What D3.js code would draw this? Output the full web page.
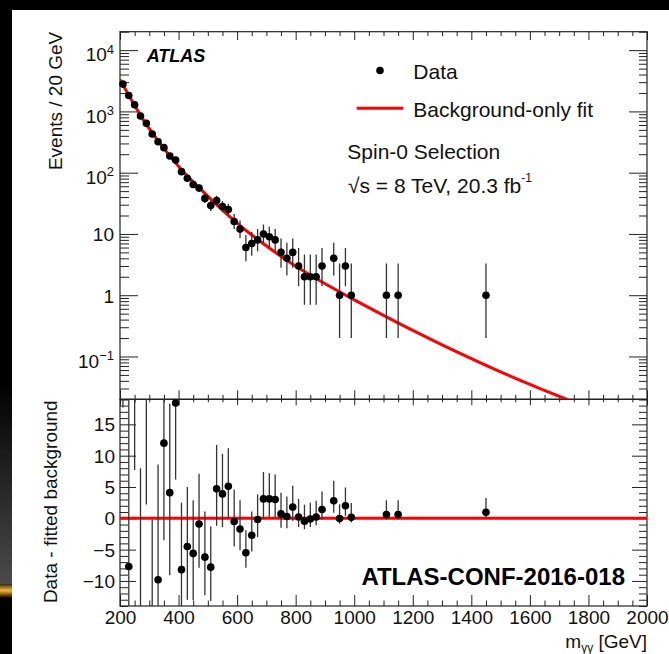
<!DOCTYPE html>
<html lang="en">
<head>
<meta charset="UTF-8">
<title>Diphoton invariant mass</title>
<script src="https://d3js.org/d3.v7.min.js"></script>
<style>
  body { margin: 0; background: #000; }
  svg { display: block; }
</style>
</head>
<body>
<svg id="chart" width="669" height="654"></svg>
<script>
// bin centres (GeV) of the non-empty 20 GeV bins
var mass = [210, 230, 250, 270, 290, 310, 330, 350, 370, 390,
            410, 430, 450, 470, 490, 510, 530, 550, 570, 590,
            610, 630, 650, 670, 690, 710, 730, 750, 770, 790,
            810, 830, 850, 870, 890, 930, 950, 970, 990, 1110,
            1150, 1450];
// events per bin
var counts = [2790, 1820, 1285, 840, 638, 427, 320, 256, 187, 161,
              104, 81, 64, 56, 38, 29, 35, 28, 25, 16,
              12, 6, 7, 8, 10, 9, 8, 5, 4, 5,
              3, 2, 2, 2, 3, 4, 1, 3, 1, 1,
              1, 1];
// error bars (down / up)
var errLow = [52.3, 42.2, 35.3, 28.5, 24.8, 20.2, 17.4, 15.5, 13.2, 12.2,
              9.7, 8.5, 7.5, 7.0, 6.1, 5.4, 5.9, 5.3, 5.0, 4.0,
              3.4, 2.4, 2.6, 2.8, 3.1, 2.9, 2.8, 2.2, 1.9, 2.2,
              1.6, 1.3, 1.3, 1.3, 1.6, 1.9, 0.8, 1.6, 0.8, 0.8,
              0.8, 0.8];
var errHigh = [53.3, 43.2, 36.3, 29.5, 25.8, 21.2, 18.4, 16.5, 14.2, 13.2,
               10.7, 9.5, 8.5, 8.0, 7.3, 6.5, 7.0, 6.4, 6.1, 5.1,
               4.6, 3.6, 3.8, 4.0, 4.3, 4.1, 4.0, 3.4, 3.2, 3.4,
               2.9, 2.6, 2.6, 2.6, 2.9, 3.2, 2.3, 2.9, 2.3, 2.3,
               2.3, 2.3];
// data - fitted background (lower panel)
var residual = [70, -7.7, 43, -21.5, 27, -21.4, -9.8, 12.0, 4.1, 18.4,
                -8.2, -4.5, -5.6, -0.9, -6.2, -7.8, 4.7, 3.9, 5.1, -0.5,
                -1.7, -5.5, -2.7, -0.2, 3.1, 3.1, 3.0, 0.7, 0.3, 1.8,
                0.2, -0.45, -0.1, 0.2, 1.4, 2.8, -0.05, 2.0, 0.15, 0.6,
                0.6, 0.95];
// background-only fit
var fitMass  = [200, 230, 270, 330, 410, 470, 550, 610, 690, 790,
                890, 1000, 1100, 1200, 1300, 1400, 1500, 1600, 1750];
var fitValue = [3325, 1830, 861, 330, 112, 57, 24.5, 13.7, 6.9, 3.2,
                1.64, 0.84, 0.468, 0.266, 0.155, 0.0925, 0.0561, 0.0349, 0.0179];

var xLabels = [200, 400, 600, 800, 1000, 1200, 1400, 1600, 1800, 2000];
var logLabels = [0.1, 1, 10, 100, 1000, 10000];
var residualLabels = [-10, -5, 0, 5, 10, 15];

var font = "'Liberation Sans', Arial, Helvetica, sans-serif";
var svg = d3.select("#chart");
var defs = svg.append("defs");

// slide background: black with a greyish strip and a gold streak on the left
var strip = defs.append("linearGradient").attr("id", "strip")
    .attr("x1", 0).attr("y1", 0).attr("x2", 0).attr("y2", 1);
strip.append("stop").attr("offset", "0%").attr("stop-color", "#000");
strip.append("stop").attr("offset", "100%").attr("stop-color", "#4a4a4a");
var gold = defs.append("linearGradient").attr("id", "gold")
    .attr("x1", 0).attr("y1", 0).attr("x2", 0).attr("y2", 1);
gold.append("stop").attr("offset", "0%").attr("stop-color", "#3a2a08");
gold.append("stop").attr("offset", "45%").attr("stop-color", "#f2b43c");
gold.append("stop").attr("offset", "60%").attr("stop-color", "#c88a20");
gold.append("stop").attr("offset", "100%").attr("stop-color", "#000");

svg.append("rect").attr("width", 669).attr("height", 654).attr("fill", "#000");
svg.append("rect").attr("x", 0).attr("y", 380).attr("width", 12).attr("height", 204).attr("fill", "url(#strip)");
svg.append("rect").attr("x", 0).attr("y", 584).attr("width", 12).attr("height", 14).attr("fill", "url(#gold)");
svg.append("rect").attr("x", 12).attr("y", 10).attr("width", 657).attr("height", 644).attr("fill", "#fff");

var frame = {left: 120, right: 647, top: 31.7, mid: 399.3, bottom: 606};

var x = d3.scaleLinear().domain([200, 2000]).range([frame.left, frame.right]);
var yTop = d3.scaleLog().domain([0.02, 2e4]).range([frame.mid, frame.top]);
var yBot = d3.scaleLinear().domain([-14, 19]).range([frame.bottom, frame.mid]);

defs.append("clipPath").attr("id", "clipTop").append("rect")
    .attr("x", frame.left).attr("y", frame.top)
    .attr("width", frame.right - frame.left).attr("height", frame.mid - frame.top);
defs.append("clipPath").attr("id", "clipBot").append("rect")
    .attr("x", frame.left).attr("y", frame.mid)
    .attr("width", frame.right - frame.left).attr("height", frame.bottom - frame.mid);

// tick marks (no labels) drawn with d3 axes
function tickRow(axisFn, scale, values, size, tx, ty) {
  var g = svg.append("g").attr("transform", "translate(" + tx + "," + ty + ")");
  g.call(axisFn(scale).tickValues(values).tickSize(size).tickFormat(""));
  g.select(".domain").remove();
  g.selectAll(".tick line").attr("stroke", "#222").attr("stroke-width", 1);
  return g;
}

var xMajor = d3.range(200, 2001, 200);
var xMinor = d3.range(200, 2001, 50).filter(function(v) { return v % 200 !== 0; });
var logMajor = [0.1, 1, 10, 100, 1000, 10000];
var logMinor = [];
[0.01, 0.1, 1, 10, 100, 1000, 10000].forEach(function(p) {
  for (var k = 2; k <= 9; k++) {
    var v = p * k;
    if (v >= 0.02 && v <= 2e4) logMinor.push(v);
  }
});
var resMajor = [-10, -5, 0, 5, 10, 15];
var resMinor = d3.range(-14, 20, 1).filter(function(v) { return v % 5 !== 0; });

// upper panel ticks
tickRow(d3.axisBottom, x, xMajor, 8.3, 0, frame.top);
tickRow(d3.axisBottom, x, xMinor, 4.3, 0, frame.top);
tickRow(d3.axisBottom, x, xMajor, -9, 0, frame.mid);
tickRow(d3.axisBottom, x, xMinor, -4.5, 0, frame.mid);
tickRow(d3.axisRight, yTop, logMajor, 18, frame.left, 0);
tickRow(d3.axisRight, yTop, logMinor, 9, frame.left, 0);
tickRow(d3.axisLeft, yTop, logMajor, 18, frame.right, 0);
tickRow(d3.axisLeft, yTop, logMinor, 8, frame.right, 0);

// lower panel ticks
tickRow(d3.axisBottom, x, xMajor, 6, 0, frame.mid);
tickRow(d3.axisBottom, x, xMinor, 3, 0, frame.mid);
tickRow(d3.axisBottom, x, xMajor, -11, 0, frame.bottom);
tickRow(d3.axisBottom, x, xMinor, -5.5, 0, frame.bottom);
tickRow(d3.axisRight, yBot, resMajor, 16, frame.left, 0);
tickRow(d3.axisRight, yBot, resMinor, 8, frame.left, 0);
tickRow(d3.axisLeft, yBot, resMajor, 15, frame.right, 0);
tickRow(d3.axisLeft, yBot, resMinor, 8, frame.right, 0);

// frames
[[frame.top, frame.mid], [frame.mid, frame.bottom]].forEach(function(r) {
  svg.append("rect").attr("x", frame.left).attr("y", r[0])
    .attr("width", frame.right - frame.left).attr("height", r[1] - r[0])
    .attr("fill", "none").attr("stroke", "#222").attr("stroke-width", 1.2);
});

// tick labels
var xLab = svg.append("g").attr("transform", "translate(0," + frame.bottom + ")")
    .call(d3.axisBottom(x).tickValues(xLabels).tickSize(0).tickFormat(d3.format("d")));
xLab.select(".domain").remove();
xLab.attr("font-family", font).attr("font-size", 19);
xLab.selectAll(".tick text").attr("y", 18.3).attr("dy", null).attr("fill", "#111");

var logLab = svg.append("g").attr("transform", "translate(" + frame.left + ",0)")
    .call(d3.axisLeft(yTop).tickValues(logLabels).tickSize(0).tickPadding(6).tickFormat(function() { return ""; }));
logLab.select(".domain").remove();
logLab.attr("font-family", font).attr("font-size", 19);
logLab.selectAll(".tick text").attr("dy", null).attr("fill", "#111").each(function(d) {
  var t = d3.select(this);
  var p = Math.round(Math.log10(d));
  if (p === 0 || p === 1) {
    t.attr("y", 7).text(p === 0 ? "1" : "10");
  } else {
    t.attr("y", 10.7);
    t.append("tspan").text("10");
    t.append("tspan").attr("font-size", 13).attr("dy", -7.4).text(p < 0 ? "\u2212" + (-p) : String(p));
  }
});

var resLab = svg.append("g").attr("transform", "translate(" + frame.left + ",0)")
    .call(d3.axisLeft(yBot).tickValues(residualLabels).tickSize(0).tickPadding(5)
      .tickFormat(function(d) { return d < 0 ? "\u2212" + (-d) : String(d); }));
resLab.select(".domain").remove();
resLab.attr("font-family", font).attr("font-size", 19);
resLab.selectAll(".tick text").attr("dy", null).attr("y", 6.5).attr("fill", "#111");

// upper panel: fit and data
var points = mass.map(function(m, i) {
  return {m: m, n: counts[i], lo: errLow[i], hi: errHigh[i], r: residual[i]};
});
var markerR = 3.8;

var fitLine = d3.line()
    .x(function(d) { return x(d[0]); })
    .y(function(d) { return yTop(d[1]); })
    .curve(d3.curveMonotoneX);

var topPanel = svg.append("g").attr("clip-path", "url(#clipTop)");
topPanel.append("path")
    .datum(fitMass.map(function(m, i) { return [m, fitValue[i]]; }))
    .attr("d", fitLine)
    .attr("fill", "none").attr("stroke", "#ff0000").attr("stroke-width", 3);

topPanel.selectAll("line.err").data(points).enter().append("line")
    .attr("class", "err")
    .attr("x1", function(d) { return x(d.m); }).attr("x2", function(d) { return x(d.m); })
    .attr("y1", function(d) { return yTop(Math.max(d.n - d.lo, 0.001)); })
    .attr("y2", function(d) { return yTop(d.n + d.hi); })
    .attr("stroke", "#333").attr("stroke-width", 1.3);

svg.append("g").selectAll("circle").data(points).enter().append("circle")
    .attr("cx", function(d) { return x(d.m); })
    .attr("cy", function(d) { return yTop(d.n); })
    .attr("r", markerR).attr("fill", "#000");

// lower panel: zero line and residuals
var botPanel = svg.append("g").attr("clip-path", "url(#clipBot)");
botPanel.append("line")
    .attr("x1", x(200)).attr("x2", x(2000))
    .attr("y1", yBot(0)).attr("y2", yBot(0))
    .attr("stroke", "#ff0000").attr("stroke-width", 3);

botPanel.selectAll("line.err").data(points).enter().append("line")
    .attr("class", "err")
    .attr("x1", function(d) { return x(d.m); }).attr("x2", function(d) { return x(d.m); })
    .attr("y1", function(d) { return yBot(d.r - d.lo); })
    .attr("y2", function(d) { return yBot(d.r + d.hi); })
    .attr("stroke", "#333").attr("stroke-width", 1.3);

svg.append("g").selectAll("circle")
    .data(points.filter(function(d) { return d.r > -14 && d.r < 19; }))
    .enter().append("circle")
    .attr("cx", function(d) { return x(d.m); })
    .attr("cy", function(d) { return yBot(d.r); })
    .attr("r", markerR).attr("fill", "#000");

// axis titles
svg.append("text")
    .attr("transform", "translate(61.5," + frame.top + ") rotate(-90)")
    .attr("text-anchor", "end").attr("font-family", font).attr("font-size", 19).attr("fill", "#111")
    .text("Events / 20 GeV");
svg.append("text")
    .attr("transform", "translate(57.3," + (frame.mid + 1) + ") rotate(-90)")
    .attr("text-anchor", "end").attr("font-family", font).attr("font-size", 19).attr("fill", "#111")
    .text("Data - fitted background");

var xt = svg.append("text")
    .attr("x", frame.right).attr("y", 648.3)
    .attr("text-anchor", "end").attr("font-family", font).attr("font-size", 19).attr("fill", "#111");
xt.append("tspan").text("m");
xt.append("tspan").attr("font-size", 12).attr("dy", 4).text("\u03b3\u03b3");
xt.append("tspan").attr("dy", -4).text(" [GeV]");

// labels and legend
svg.append("text").attr("x", 146.7).attr("y", 62)
    .attr("font-family", font).attr("font-size", 18).attr("font-weight", "bold").attr("font-style", "italic")
    .text("ATLAS");

svg.append("circle").attr("cx", 380).attr("cy", 70.5).attr("r", markerR).attr("fill", "#000");
svg.append("text").attr("x", 413.3).attr("y", 78.7)
    .attr("font-family", font).attr("font-size", 21).attr("fill", "#111").text("Data");
svg.append("line").attr("x1", 356.7).attr("x2", 403.3).attr("y1", 108.3).attr("y2", 108.3)
    .attr("stroke", "#ff0000").attr("stroke-width", 3);
svg.append("text").attr("x", 413.3).attr("y", 117.3)
    .attr("font-family", font).attr("font-size", 21).attr("fill", "#111").text("Background-only fit");

svg.append("text").attr("x", 347.3).attr("y", 158.5)
    .attr("font-family", font).attr("font-size", 21).attr("fill", "#111").text("Spin-0 Selection");
var lumi = svg.append("text").attr("x", 348).attr("y", 193.3)
    .attr("font-family", font).attr("font-size", 21).attr("fill", "#111");
lumi.append("tspan").text("\u221as = 8 TeV, 20.3 fb");
lumi.append("tspan").attr("font-size", 12).attr("dy", -11).text("-1");

svg.append("text").attr("x", 625).attr("y", 585)
    .attr("text-anchor", "end").attr("font-family", font).attr("font-size", 24).attr("font-weight", "bold")
    .text("ATLAS-CONF-2016-018");
</script>
</body>
</html>
